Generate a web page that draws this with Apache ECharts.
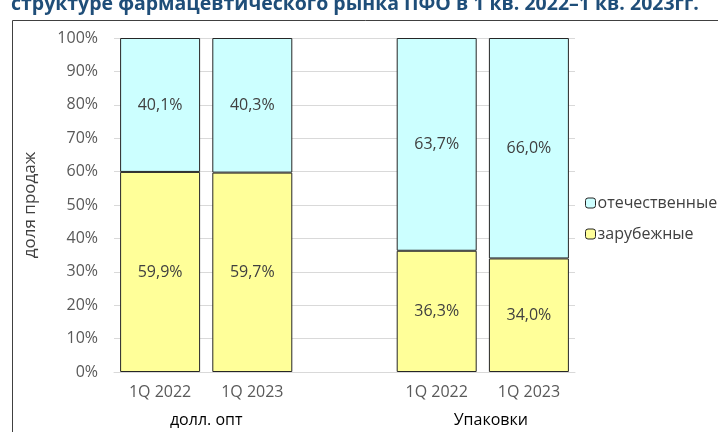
<!DOCTYPE html>
<html>
<head>
<meta charset="utf-8">
<script src="https://cdn.jsdelivr.net/npm/echarts@6/dist/echarts.min.js"></script>
<style>
  html, body { margin: 0; padding: 0; background: #fff; }
  #chart { width: 718px; height: 432px; }
</style>
</head>
<body>
<div id="chart"></div>
<script>
const titleText = 'структуре фармацевтического рынка ПФО в 1 кв. 2022–1 кв. 2023гг.'
const categories = ['1Q 2022', '1Q 2023', '', '1Q 2022', '1Q 2023']
const groupLabels = ['', '', 'долл. опт', '', '', '', '', '', 'Упаковки', '', '']
const foreign = [59.9, 59.7, null, 36.3, 34.0]
const domestic = [40.1, 40.3, null, 63.7, 66.0]
const seriesNames = ['зарубежные', 'отечественные']
const yTicks = { min: 0, max: 100, interval: 10 }

const font = 'Open Sans'
let myChart = echarts.init(document.getElementById('chart'))

function pct (p) {
  return p.value == null ? '' : p.value.toFixed(1).replace('.', ',') + '%'
}

myChart.setOption({
  animation: false,
  textStyle: { fontFamily: font },
  title: {
    text: titleText,
    left: 6,
    top: -11,
    textStyle: { fontSize: 19.5, fontWeight: 'bold', color: '#1F4E79', fontFamily: font }
  },
  graphic: [
    {
      type: 'rect',
      left: 10,
      top: 18,
      shape: { width: 720, height: 430 },
      style: { fill: 'none', stroke: '#404040', lineWidth: 1 },
      silent: true
    }
  ],
  legend: {
    orient: 'vertical',
    left: 580,
    top: 190,
    itemWidth: 10,
    itemHeight: 10,
    itemGap: 15,
    data: ['отечественные', 'зарубежные'],
    textStyle: { fontSize: 16, color: '#404040', padding: [0, 0, 0, -3] },
    itemStyle: { borderColor: '#262626', borderWidth: 1 }
  },
  grid: { left: 114, right: 143, top: 38, bottom: 60 },
  xAxis: [
    {
      type: 'category',
      data: categories,
      axisLine: { lineStyle: { color: '#D9D9D9', width: 1 } },
      axisTick: { show: false },
      axisLabel: { fontSize: 16, color: '#595959', margin: 12 }
    },
    {
      type: 'category',
      data: groupLabels,
      position: 'bottom',
      boundaryGap: false,
      axisLine: { show: false },
      axisTick: { show: false },
      axisLabel: {
        interval: 0,
        fontSize: 16,
        color: '#000',
        margin: 40,
        formatter: function (v) {
          return v === 'Упаковки' ? '{b|' + v + '}' : v
        },
        rich: { b: { fontSize: 16, color: '#000', padding: [0, 0, 0, 16] } }
      }
    }
  ],
  yAxis: {
    type: 'value',
    min: yTicks.min,
    max: yTicks.max,
    interval: yTicks.interval,
    name: 'доля продаж',
    nameLocation: 'middle',
    nameGap: 75,
    nameTextStyle: { fontSize: 17, color: '#404040' },
    axisLabel: { formatter: '{value}%', fontSize: 16, color: '#595959', margin: 16 },
    splitLine: { lineStyle: { color: '#D9D9D9', width: 1 } },
    axisLine: { show: false },
    axisTick: { show: false }
  },
  series: [
    {
      name: seriesNames[0],
      type: 'bar',
      stack: 'total',
      barWidth: 80,
      data: foreign,
      itemStyle: { color: '#FFFF99', borderColor: '#262626', borderWidth: 1 },
      label: { show: true, position: 'inside', fontSize: 16, color: '#404040', formatter: pct }
    },
    {
      name: seriesNames[1],
      type: 'bar',
      stack: 'total',
      barWidth: 80,
      data: domestic,
      itemStyle: { color: '#CCFFFF', borderColor: '#262626', borderWidth: 1 },
      label: { show: true, position: 'inside', fontSize: 16, color: '#404040', formatter: pct }
    }
  ]
})
</script>
</body>
</html>
